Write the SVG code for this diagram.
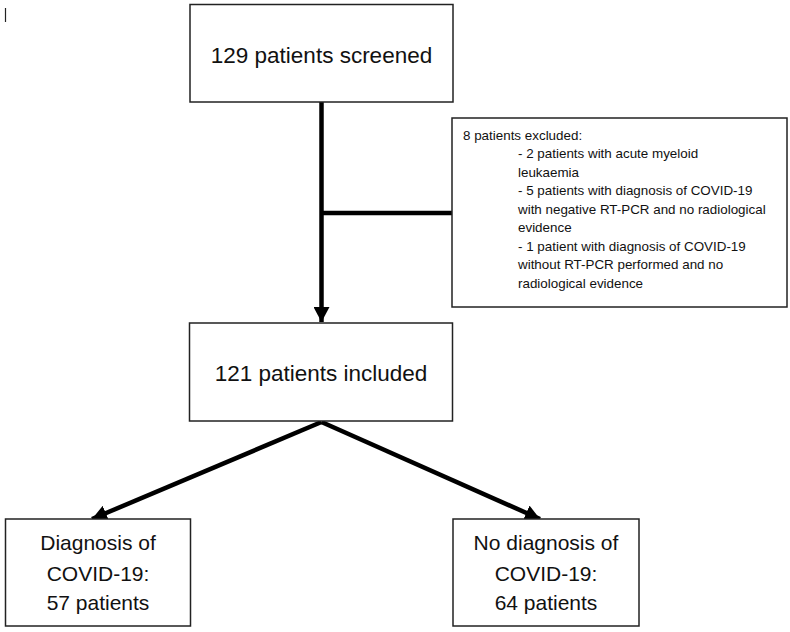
<svg xmlns="http://www.w3.org/2000/svg" width="790" height="632" viewBox="0 0 790 632">
<style>
.box{fill:#fff;stroke:#222;stroke-width:1.5}
.big{font-family:"Liberation Sans",Arial,sans-serif;font-size:22.5px;fill:#111;text-anchor:middle}
.mid{font-family:"Liberation Sans",Arial,sans-serif;font-size:21px;fill:#111;text-anchor:middle}
.small{font-family:"Liberation Sans",Arial,sans-serif;font-size:13.4px;fill:#111}
.conn{stroke:#000;stroke-width:4.5;fill:none}
</style>
<defs>
<marker id="arr" markerUnits="userSpaceOnUse" markerWidth="16" markerHeight="16" refX="15" refY="8" orient="auto">
<path d="M0,0 L15,8 L0,16 Z" fill="#000"/>
</marker>
</defs>
<rect width="790" height="632" fill="#fff"/>
<line x1="5.5" y1="8" x2="5.5" y2="22" stroke="#222" stroke-width="1.2"/>
<g id="connectors">
<line class="conn" x1="321.5" y1="102" x2="321.5" y2="322" marker-end="url(#arr)"/>
<line class="conn" x1="321.5" y1="213" x2="452" y2="213"/>
<line class="conn" x1="321.5" y1="422" x2="92" y2="519" marker-end="url(#arr)"/>
<line class="conn" x1="321.5" y1="422" x2="540" y2="519" marker-end="url(#arr)"/>
</g>
<g id="screened">
<rect class="box" x="190" y="4.5" width="263" height="97.5"/>
<text class="big" x="321.5" y="63">129 patients screened</text>
</g>
<g id="excluded">
<rect class="box" x="452" y="118" width="335" height="189"/>
<text class="small" x="463" y="139.5">8 patients excluded:</text>
<text class="small" x="518" y="158">- 2 patients with acute myeloid</text>
<text class="small" x="518" y="176.5">leukaemia</text>
<text class="small" x="518" y="195">- 5 patients with diagnosis of COVID-19</text>
<text class="small" x="518" y="213.5">with negative RT-PCR and no radiological</text>
<text class="small" x="518" y="232">evidence</text>
<text class="small" x="518" y="250.5">- 1 patient with diagnosis of COVID-19</text>
<text class="small" x="518" y="269">without RT-PCR performed and no</text>
<text class="small" x="518" y="287.5">radiological evidence</text>
</g>
<g id="included">
<rect class="box" x="189.5" y="323" width="263" height="98"/>
<text class="big" x="321" y="381">121 patients included</text>
</g>
<g id="covid">
<rect class="box" x="5.5" y="519" width="185" height="107"/>
<text class="mid" x="98" y="550">Diagnosis of</text>
<text class="mid" x="98" y="581">COVID-19:</text>
<text class="mid" x="98" y="610">57 patients</text>
</g>
<g id="nocovid">
<rect class="box" x="453" y="519" width="186" height="107"/>
<text class="mid" x="546" y="550">No diagnosis of</text>
<text class="mid" x="546" y="581">COVID-19:</text>
<text class="mid" x="546" y="610">64 patients</text>
</g>
</svg>
